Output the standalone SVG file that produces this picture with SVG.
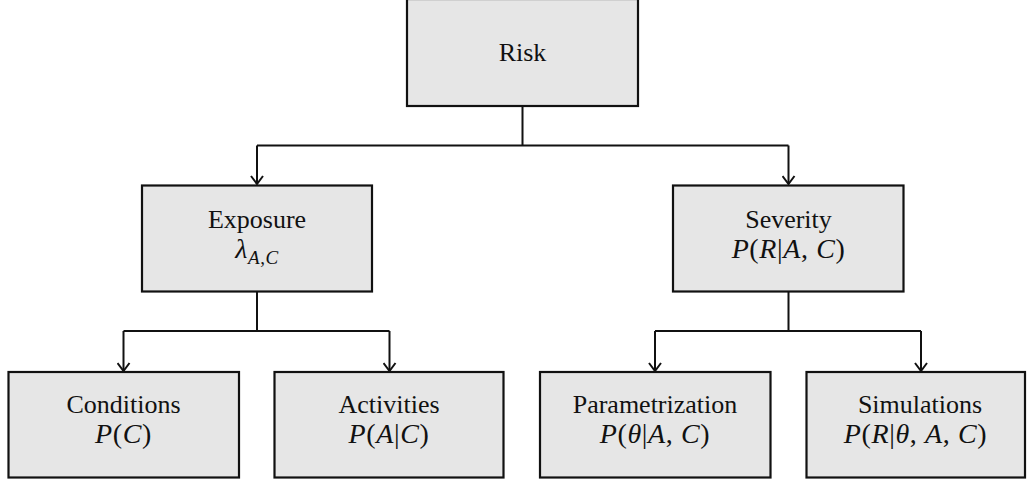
<svg xmlns="http://www.w3.org/2000/svg" width="1027" height="482" viewBox="0 0 1027 482">
<style>
.box{fill:#e6e6e6;stroke:#111;stroke-width:2.2}
.t{font-family:"Liberation Serif","Times New Roman",serif;font-size:26px;fill:#111;text-anchor:middle}
.m{font-size:28px;letter-spacing:0.6px}
.i{font-style:italic}
.c{fill:none;stroke:#111;stroke-width:2}
</style>
<defs>
<marker id="a2" viewBox="-7 -9 14 10" refX="0" refY="0" markerWidth="14" markerHeight="10" markerUnits="userSpaceOnUse" orient="0">
<path d="M-6,-8 L0,0 L6,-8" fill="none" stroke="#111" stroke-width="2"/>
</marker>
</defs>
<g id="connectors">
<path class="c" d="M522.5,106 V145.5 M257,145.5 H788.5"/>
<path class="c" d="M257,145.5 V184" marker-end="url(#a2)"/>
<path class="c" d="M788.5,145.5 V184" marker-end="url(#a2)"/>
<path class="c" d="M257,292 V331 M123.5,331 H389.5"/>
<path class="c" d="M123.5,331 V371" marker-end="url(#a2)"/>
<path class="c" d="M389.5,331 V371" marker-end="url(#a2)"/>
<path class="c" d="M788.5,292 V331 M655,331 H921"/>
<path class="c" d="M655,331 V371" marker-end="url(#a2)"/>
<path class="c" d="M921,331 V371" marker-end="url(#a2)"/>
</g>
<g id="risk">
<rect class="box" x="407" y="-1" width="231" height="107"/>
<text class="t" x="522.5" y="61">Risk</text>
</g>
<g id="exposure">
<rect class="box" x="142" y="185.5" width="230" height="106"/>
<text class="t" x="257" y="228">Exposure</text>
<text class="t m" x="257" y="258"><tspan class="i">λ</tspan><tspan class="i" font-size="19" dy="6">A</tspan><tspan font-size="19">,</tspan><tspan class="i" font-size="19">C</tspan></text>
</g>
<g id="severity">
<rect class="box" x="673" y="185.5" width="230.5" height="106"/>
<text class="t" x="788.5" y="228">Severity</text>
<text class="t m" x="788.5" y="258"><tspan class="i">P</tspan>(<tspan class="i">R</tspan>|<tspan class="i">A</tspan>, <tspan class="i">C</tspan>)</text>
</g>
<g id="conditions">
<rect class="box" x="8.5" y="372" width="230.5" height="105.5"/>
<text class="t" x="123.5" y="413">Conditions</text>
<text class="t m" x="123.5" y="443"><tspan class="i">P</tspan>(<tspan class="i">C</tspan>)</text>
</g>
<g id="activities">
<rect class="box" x="274.5" y="372" width="229" height="105.5"/>
<text class="t" x="389" y="413">Activities</text>
<text class="t m" x="389" y="443"><tspan class="i">P</tspan>(<tspan class="i">A</tspan>|<tspan class="i">C</tspan>)</text>
</g>
<g id="parametrization">
<rect class="box" x="540" y="372" width="230.5" height="105.5"/>
<text class="t" x="655" y="413">Parametrization</text>
<text class="t m" x="655" y="443"><tspan class="i">P</tspan>(<tspan class="i">θ</tspan>|<tspan class="i">A</tspan>, <tspan class="i">C</tspan>)</text>
</g>
<g id="simulations">
<rect class="box" x="806.5" y="372" width="218.5" height="105.5"/>
<text class="t" x="920" y="413">Simulations</text>
<text class="t m" x="915.5" y="443"><tspan class="i">P</tspan>(<tspan class="i">R</tspan>|<tspan class="i">θ</tspan>, <tspan class="i">A</tspan>, <tspan class="i">C</tspan>)</text>
</g>
</svg>
